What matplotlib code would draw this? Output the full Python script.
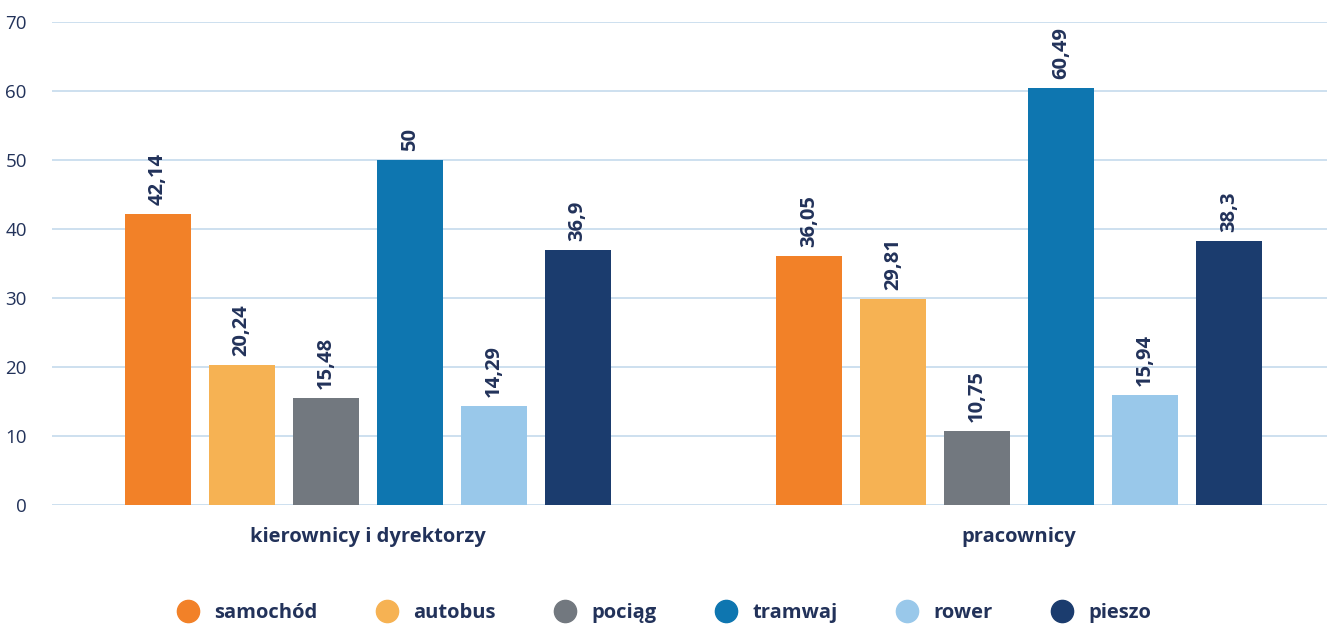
import matplotlib.pyplot as plt
from matplotlib.lines import Line2D
import numpy as np

plt.rcParams['font.family'] = ['Open Sans', 'DejaVu Sans']

groups = ["kierownicy i dyrektorzy", "pracownicy"]
modes = ["samochód", "autobus", "pociąg", "tramwaj", "rower", "pieszo"]
values = {
    "samochód": [42.14, 36.05],
    "autobus": [20.24, 29.81],
    "pociąg": [15.48, 10.75],
    "tramwaj": [50, 60.49],
    "rower": [14.29, 15.94],
    "pieszo": [36.9, 38.3],
}
colors = ["#F28128", "#F6B253", "#72787F", "#0E76B0", "#99C8EA", "#1B3C6E"]
text_color = "#22325A"

fig = plt.figure(figsize=(13.27, 6.24), dpi=100)
ax = fig.add_axes([0.039, 0.1907, 0.961, 0.774])

x = np.arange(len(groups))
width = 0.1014
step = 0.129

for i, mode in enumerate(modes):
    pos = x + (i - 2.5) * step
    bars = ax.bar(pos, values[mode], width=width, color=colors[i], zorder=3)
    for b, v in zip(bars, values[mode]):
        label = f"{v:g}".replace(".", ",")
        ax.annotate(label, (b.get_x() + b.get_width() / 2, b.get_height()),
                    xytext=(0, 6.5), textcoords="offset points",
                    ha="center", va="bottom", rotation=90,
                    fontsize=14.5, fontweight="bold", color=text_color)

ax.set_ylim(0, 70)
ax.set_xlim(-0.485, 1.473)
ax.set_yticks(range(0, 71, 10))
ax.yaxis.grid(True, color="#C9DDEE", linewidth=1.3, zorder=0)
ax.set_axisbelow(True)
for s in ax.spines.values():
    s.set_visible(False)
ax.tick_params(axis="y", length=0, labelsize=13.5, labelcolor=text_color, pad=18)
ax.tick_params(axis="x", length=0, pad=16)
ax.set_xticks(x)
ax.set_xticklabels(groups, fontsize=14.5, fontweight="bold", color=text_color)

handles = [Line2D([], [], marker="o", linestyle="none", markersize=16,
                  markerfacecolor=c, markeredgecolor=c) for c in colors]
leg = fig.legend(handles, modes, loc="center", bbox_to_anchor=(0.497, 0.018),
                 ncol=6, frameon=False, columnspacing=2.45, handletextpad=0.3,
                 prop={"size": 14.5, "weight": "bold"})
for t in leg.get_texts():
    t.set_color(text_color)

fig.savefig("out.png", dpi=100)
